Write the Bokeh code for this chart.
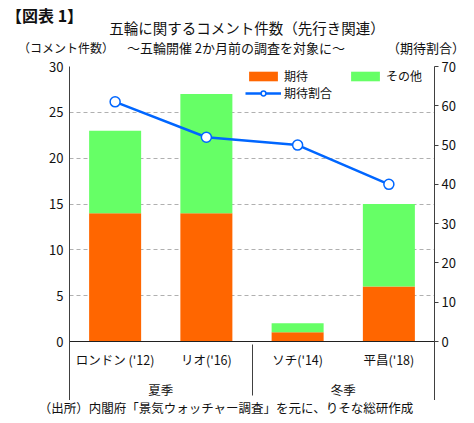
from bokeh.plotting import figure
from bokeh.layouts import column
from bokeh.models import (FactorRange, Range1d, LinearAxis, FixedTicker, Legend, LegendItem,
                          ColumnDataSource, Div)
from bokeh.embed import file_html
from bokeh.resources import INLINE

# ---- data ----
seasons = ["夏季", "夏季", "冬季", "冬季"]
games = ["ロンドン ('12)", "リオ('16)", "ソチ('14)", "平昌('18)"]
expect = [14, 14, 1, 6]
other = [9, 13, 1, 9]
ratio = [61, 52, 50, 40]
left_ticks = [0, 5, 10, 15, 20, 25, 30]
right_ticks = [0, 10, 20, 30, 40, 50, 60, 70]

title_text = "五輪に関するコメント件数（先行き関連）"
subtitle_text = "～五輪開催 2か月前の調査を対象に～"
fig_no = "【図表 1】"
left_title = "（コメント件数）"
right_title = "（期待割合）"
source_text = "（出所）内閣府「景気ウォッチャー調査」を元に、りそな総研作成"

FONT = "Noto Sans CJK JP"
ORANGE = "#FF6600"
GREEN = "#66FF66"
BLUE = "#0066FF"
AXIS = "#404040"
TXT = "#111111"

W = 458
HEAD_H = 50
FOOT_H = 15
PLOT_H = 275      # pixels for 0..30
BELOW = 59        # frame pixels below the zero line (category label area)

# ---------------- main chart ----------------
factors = list(zip(seasons, games))
src = ColumnDataSource(dict(x=factors, expect=expect, other=other, ratio=ratio))

ymax = left_ticks[-1]
ymin = -ymax * BELOW / PLOT_H
rmax = right_ticks[-1]
rmin = -rmax * BELOW / PLOT_H

xr = FactorRange(*factors, group_padding=0, factor_padding=0, subgroup_padding=0, range_padding=0)
p = figure(x_range=xr, y_range=Range1d(ymin, ymax), title=None,
           frame_width=365, frame_height=PLOT_H + BELOW,
           min_border_left=61, min_border_right=32, min_border_top=8, min_border_bottom=0,
           output_backend="svg", toolbar_location=None)
p.outline_line_color = None
p.extra_y_ranges = {"pct": Range1d(rmin, rmax)}

bars = p.vbar_stack(["expect", "other"], x="x", width=0.57, color=[ORANGE, GREEN],
                    line_color=None, source=src)
ln = p.line(x="x", y="ratio", y_range_name="pct", line_color=BLUE, line_width=2.5, source=src)
sc = p.scatter(x="x", y="ratio", y_range_name="pct", size=10, fill_color="white",
               line_color=BLUE, line_width=1.5, source=src)

p.xgrid.visible = False
p.ygrid.ticker = FixedTicker(ticks=left_ticks[1:])
p.ygrid.grid_line_color = "#B0B0B0"
p.ygrid.grid_line_dash = "4 3"

# left axis (its line continues below zero as the outer group separator)
la = p.left[0]
la.ticker = FixedTicker(ticks=left_ticks)
la.bounds = (ymin, ymax)
la.major_tick_out = 0
la.major_tick_in = 0
la.minor_tick_out = 0
la.minor_tick_in = 0
la.major_label_standoff = 6
la.axis_line_color = AXIS
la.major_label_text_font = FONT
la.major_label_text_font_size = "13px"
la.major_label_text_color = TXT

# right axis
ra = LinearAxis(y_range_name="pct", ticker=FixedTicker(ticks=right_ticks), bounds=(rmin, rmax))
ra.major_tick_out = 4
ra.major_tick_in = 0
ra.minor_tick_out = 0
ra.minor_tick_in = 0
ra.major_label_standoff = 3
ra.axis_line_color = AXIS
ra.major_tick_line_color = AXIS
ra.major_label_text_font = FONT
ra.major_label_text_font_size = "13px"
ra.major_label_text_color = TXT
p.add_layout(ra, "right")

# category axis on the zero line
xa = p.below[0]
xa.fixed_location = 0
xa.axis_line_color = "#202020"
xa.major_tick_out = 0
xa.major_tick_in = 0
xa.major_label_standoff = 8
xa.major_label_text_font = FONT
xa.major_label_text_font_size = "12.5px"
xa.major_label_text_color = TXT
xa.group_text_font = FONT
xa.group_text_font_size = "12.5px"
xa.group_text_font_style = "normal"
xa.group_text_color = TXT
xa.separator_line_color = AXIS
xa.separator_line_width = 1

legend = Legend(items=[LegendItem(label="期待", renderers=[bars[0]]),
                       LegendItem(label="その他", renderers=[bars[1]]),
                       LegendItem(label="期待割合", renderers=[ln, sc])],
                location=(176, 299), orientation="horizontal", ncols=2,
                padding=0, margin=0, spacing=0, glyph_width=36, glyph_height=12,
                label_standoff=3, label_height=16, label_width=63,
                label_text_font=FONT, label_text_font_size="12px",
                label_text_color=TXT,
                background_fill_alpha=0, border_line_alpha=0)
p.add_layout(legend)

# ---------------- header / footer text ----------------
def span(text, x, y, size, anchor="center", bold=False):
    tx = {"center": "-50%", "left": "0", "right": "-100%"}[anchor]
    weight = "bold" if bold else "normal"
    return (f'<span style="position:absolute;left:{x}px;top:{y}px;'
            f'transform:translate({tx},-50%);font-size:{size};line-height:1.2;'
            f'white-space:nowrap;font-weight:{weight};">{text}</span>')

def box(h, inner):
    return (f'<div style="position:relative;width:{W}px;height:{h}px;overflow:visible;'
            f"font-family:'{FONT}';color:{TXT};\">{inner}</div>")

head_html = box(HEAD_H,
                span(fig_no, -2, 8, "16px", anchor="left", bold=True)
                + span(title_text, 239, 20, "14.5px")
                + span(subtitle_text, 228, 40, "13px")
                + span(left_title, 58, 40, "12px")
                + span(right_title, 457, 40, "13px", anchor="right"))
foot_html = box(FOOT_H, span(source_text, 218, 7, "12.5px"))

head = Div(text=head_html, width=W, height=HEAD_H, margin=0)
foot = Div(text=foot_html, width=W, height=FOOT_H, margin=0)

layout = column(head, p, foot, spacing=0, margin=(8, 0, 0, 8))
open("out.html", "w").write(file_html(layout, INLINE))
